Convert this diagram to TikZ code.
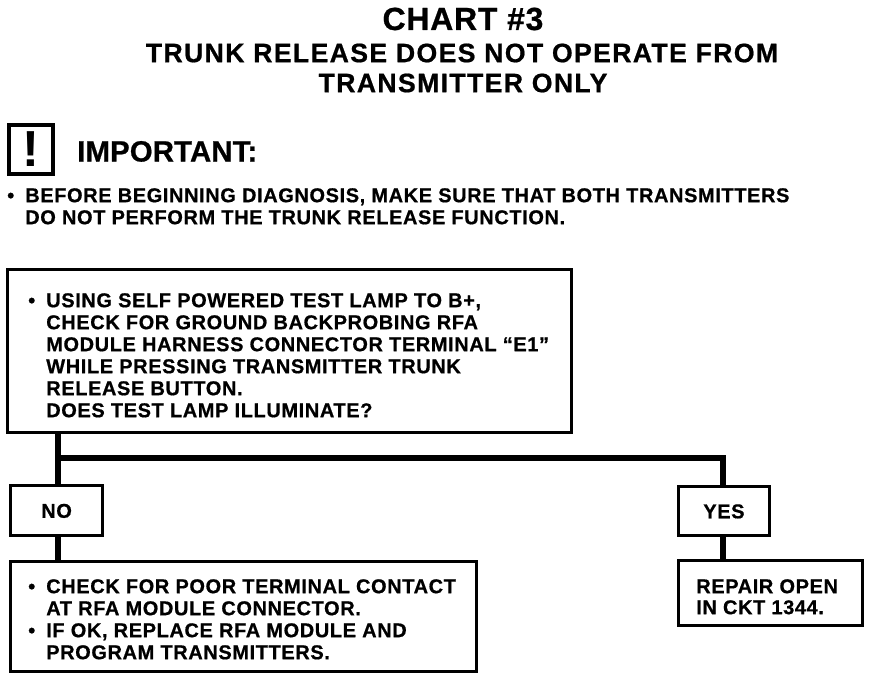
\documentclass[tikz,border=0pt]{standalone}
\usepackage{fontspec}
\setmainfont{Liberation Sans}
\newfontfamily\bodyf{Liberation Sans}[LetterSpace=3,BoldFeatures={FakeBold=0.7}]
\newfontfamily\headf{Liberation Sans}[LetterSpace=5,BoldFeatures={FakeBold=0.7}]
\newfontfamily\chartf{Liberation Sans}[LetterSpace=2.3,BoldFeatures={FakeBold=0.7}]
\newfontfamily\impf{Liberation Sans}[LetterSpace=0.5,BoldFeatures={FakeBold=0.7}]
\tikzset{
 box/.style={draw,line width=2.4pt,inner sep=0pt,anchor=north west},
 bodyfont/.style={font=\bodyf\bfseries\fontsize{15}{17}\selectfont,text height=10.8pt,text depth=0pt},
 txt/.style={bodyfont,anchor=west,inner sep=0pt},
 conn/.style={line width=5pt},
 ttl/.style={inner sep=0pt,anchor=center}
}
\begin{document}
\begin{tikzpicture}[x=0.75pt,y=-0.75pt]
\useasboundingbox (0,0) rectangle (880,680);
\node[ttl,font=\chartf\bfseries\fontsize{24}{26}\selectfont] (t1) at (463,19) {CHART \#3};
\node[ttl,font=\headf\bfseries\fontsize{20}{22}\selectfont] (t2) at (462,53) {TRUNK RELEASE DOES NOT OPERATE FROM};
\node[ttl,font=\headf\bfseries\fontsize{20}{22}\selectfont] (t3) at (463,83) {TRANSMITTER ONLY};
\node[draw,line width=3pt,minimum width=33pt,minimum height=37pt,inner sep=0pt,font=\bfseries\fontsize{38}{38}\selectfont] (ic) at (31,149.5) {!};
\node[txt,font=\impf\bfseries\fontsize{22}{24}\selectfont,text height=15.8pt] (imp) at (77,151) {IMPORTANT:};
\node[txt] (b0) at (7,195) {•};
\node[txt] (l1) at (25,195) {BEFORE BEGINNING DIAGNOSIS, MAKE SURE THAT BOTH TRANSMITTERS};
\node[txt] (l2) at (25,217) {DO NOT PERFORM THE TRUNK RELEASE FUNCTION.};
\node[box,minimum width=423pt,minimum height=122pt] (main) at (6,268) {};
\node[txt] (m0) at (28,300) {•};
\node[txt] (m1) at (46,300) {USING SELF POWERED TEST LAMP TO B+,};
\node[txt] (m2) at (46,322) {CHECK FOR GROUND BACKPROBING RFA};
\node[txt] (m3) at (46,344) {MODULE HARNESS CONNECTOR TERMINAL “E1”};
\node[txt] (m4) at (46,366) {WHILE PRESSING TRANSMITTER TRUNK};
\node[txt] (m5) at (46,388) {RELEASE BUTTON.};
\node[txt] (m6) at (46,410) {DOES TEST LAMP ILLUMINATE?};
\node[box,bodyfont,minimum width=69pt,minimum height=37.5pt] (no) at (9,484) {NO};
\node[box,bodyfont,minimum width=68pt,minimum height=36.75pt] (yes) at (677,485) {YES};
\node[box,minimum width=349.5pt,minimum height=82.5pt] (fix) at (9,560) {};
\node[box,minimum width=138pt,minimum height=48.75pt] (rep) at (677,559) {};
\node[txt] (f0) at (28,586) {•};
\node[txt] (f1) at (46,586) {CHECK FOR POOR TERMINAL CONTACT};
\node[txt] (f2) at (46,608) {AT RFA MODULE CONNECTOR.};
\node[txt] (f3) at (28,630) {•};
\node[txt] (f4) at (46,630) {IF OK, REPLACE RFA MODULE AND};
\node[txt] (f5) at (46,652) {PROGRAM TRANSMITTERS.};
\node[txt] (r1) at (696,586) {REPAIR OPEN};
\node[txt] (r2) at (696,607) {IN CKT 1344.};
\coordinate (jl) at (58,458);
\coordinate (jr) at (723,458);
\draw[conn] (main.south -| jl) -- (no.north -| jl);
\draw[conn] (jl) -- (jr) -- (yes.north -| jr);
\draw[conn] (no.south -| jl) -- (fix.north -| jl);
\draw[conn] (yes.south -| jr) -- (rep.north -| jr);
\end{tikzpicture}
\end{document}
